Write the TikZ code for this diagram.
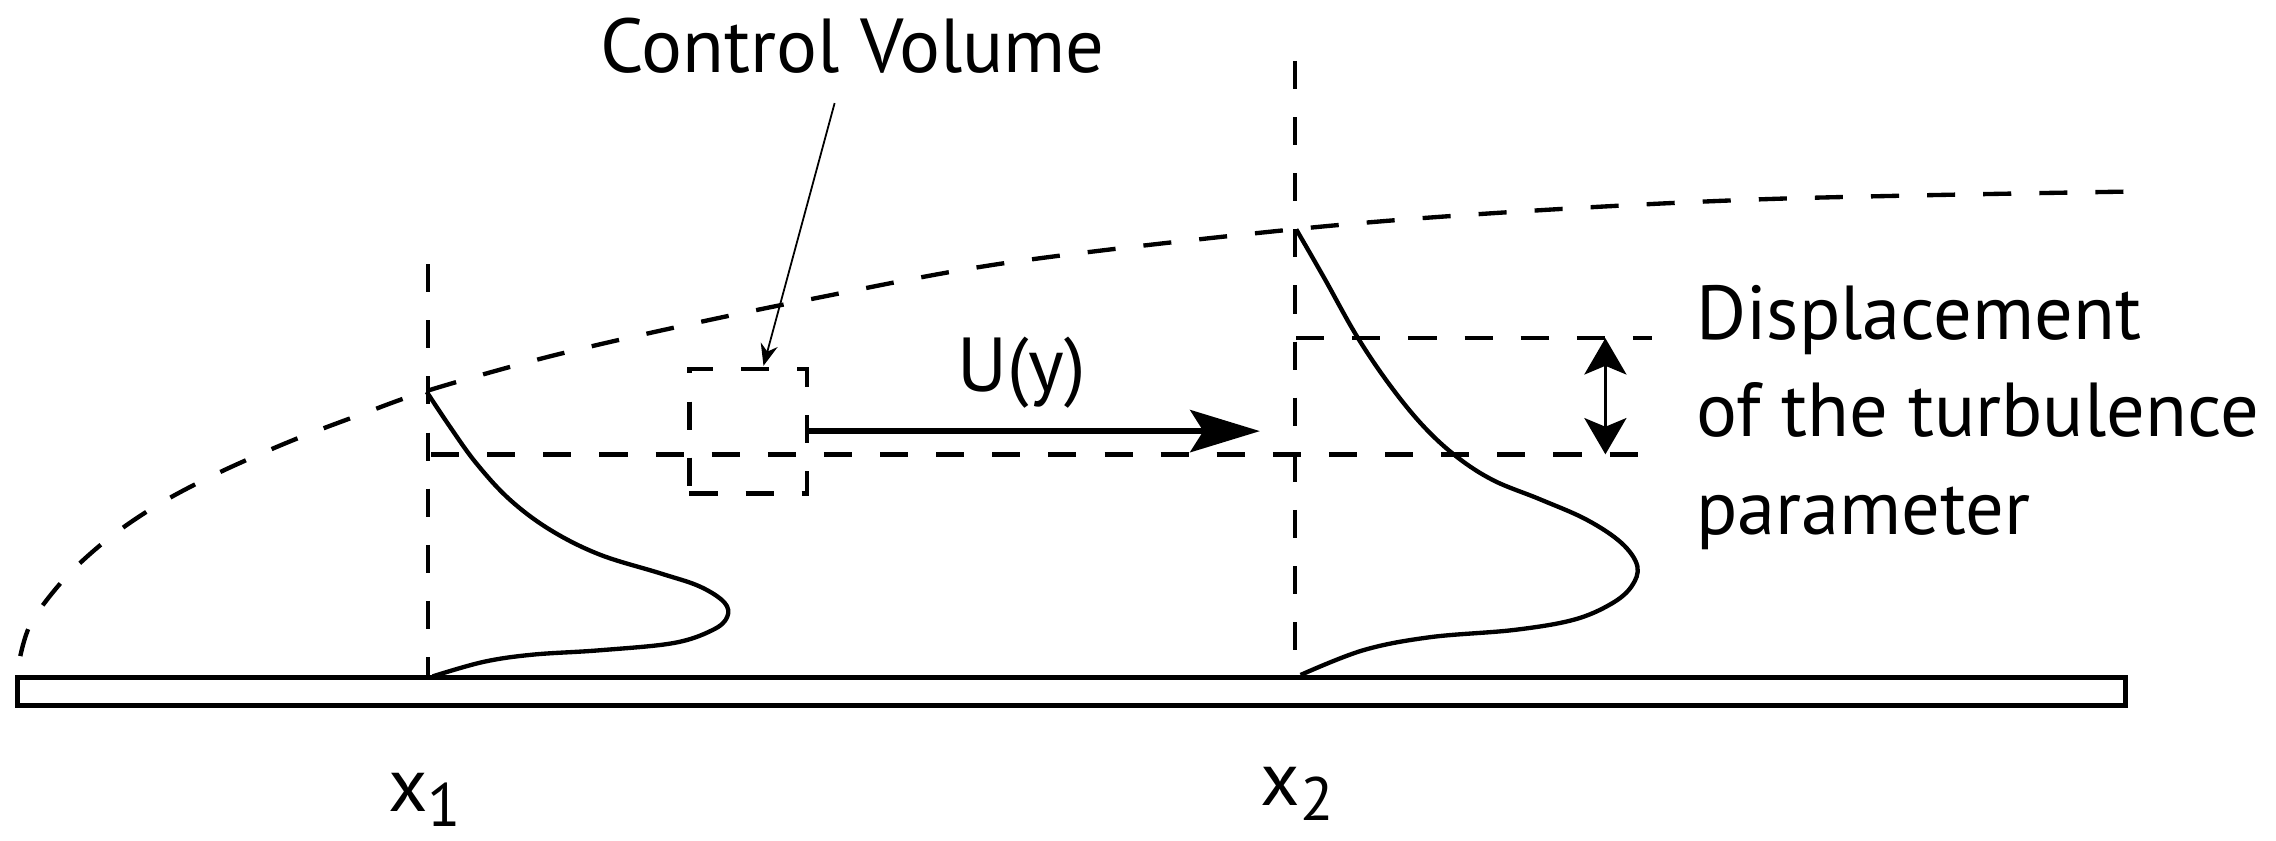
\documentclass[tikz,border=0pt]{standalone}
\usepackage{fontspec}
\setmainfont{PT Sans}
\usetikzlibrary{arrows.meta}
\begin{document}
\begin{tikzpicture}[x=0.1mm,y=-0.1mm,
  dsh/.style={line width=0.85pt, dash pattern=on 5.5pt off 5.5pt},
  prof/.style={line width=0.85pt},
  lbl/.style={font=\fontsize{15}{19}\selectfont, inner sep=0pt},
  xlbl/.style={font=\fontsize{15}{19}\selectfont, inner sep=0pt},
]
\useasboundingbox (0,0) rectangle (1568,579);
% coordinates
\coordinate (x1top) at (295,182);
\coordinate (x1bot) at (295,467);
\coordinate (x2top) at (892,42);
\coordinate (x2bot) at (892,467);
\coordinate (h1a) at (297,313);
\coordinate (h1b) at (1138,313);
\coordinate (h2a) at (893,233);
\coordinate (h2b) at (1138,233);
\coordinate (da) at (1106,233);
\coordinate (db) at (1106,313);
\coordinate (utip) at (868,297);
\coordinate (cvs) at (575,71);
\coordinate (cvt) at (526,252);
% plate
\draw[line width=1pt] (12,467) rectangle (1464,486);
% boundary layer edge
\draw[dsh] plot[smooth, tension=0.55] coordinates {(14,452) (22,428) (46,397) (76,370) (110,347) (150,326) (200,304) (250,285) (295,269) (373,247) (454,228) (554,207) (694,181) (891,158) (1042,146) (1222,137) (1465,132)};
% station lines
\draw[dsh] (x1top) -- (x1bot);
\draw[dsh] (x2top) -- (x2bot);
\draw[dsh] (h1a) -- (h1b);
\draw[dsh] (h2a) -- (h2b);
% profiles
\draw[prof] plot[smooth, tension=0.6] coordinates {(294,270) (310,294) (328,319) (351,344) (379,365) (413,382) (455,395) (482,404) (499,415) (501,425) (491,434) (464,443) (413,448) (367,451) (333,456) (298,466)};
\draw[prof] plot[smooth, tension=0.6] coordinates {(893,158) (912,191) (935,232) (958,266) (981,294) (1004,315) (1029,331) (1061,344) (1093,358) (1117,374) (1128,390) (1124,404) (1110,416) (1084,427) (1043,434) (985,439) (939,448) (896,465)};
% control volume
\node[draw, dsh, minimum width=8.1mm, minimum height=8.6mm, inner sep=0pt] (cv) at (515.5,297) {};
\draw[line width=1.2pt, -{Stealth[length=4.8mm,width=2.9mm,inset=0.9mm]}] (cv.east) -- (utip);
\node[lbl, anchor=base west] (ulbl) at (659,270) {U(y)};
\node[lbl, anchor=base west] (cvl) at (413,50) {Control Volume};
\draw[line width=0.35pt, -{Stealth[length=1.5mm,width=1.2mm]}] (cvs) -- (cvt);
% displacement
\draw[line width=0.6pt, {Stealth[length=2.5mm,width=2.9mm,inset=0.6mm]}-{Stealth[length=2.5mm,width=2.9mm,inset=0.6mm]}] (da) -- (db);
\node[lbl, anchor=base west] (d1) at (1168,234) {Displacement};
\node[lbl, anchor=base west] (d2) at (1168,301) {of the turbulence};
\node[lbl, anchor=base west] (d3) at (1168,368) {parameter};
% x labels
\node[xlbl, anchor=base west] (xl1) at (267,559) {x\raisebox{-0.2em}{\fontsize{12}{12}\selectfont 1}};
\node[xlbl, anchor=base west] (xl2) at (868,555) {x\raisebox{-0.2em}{\fontsize{12}{12}\selectfont 2}};
\end{tikzpicture}
\end{document}
